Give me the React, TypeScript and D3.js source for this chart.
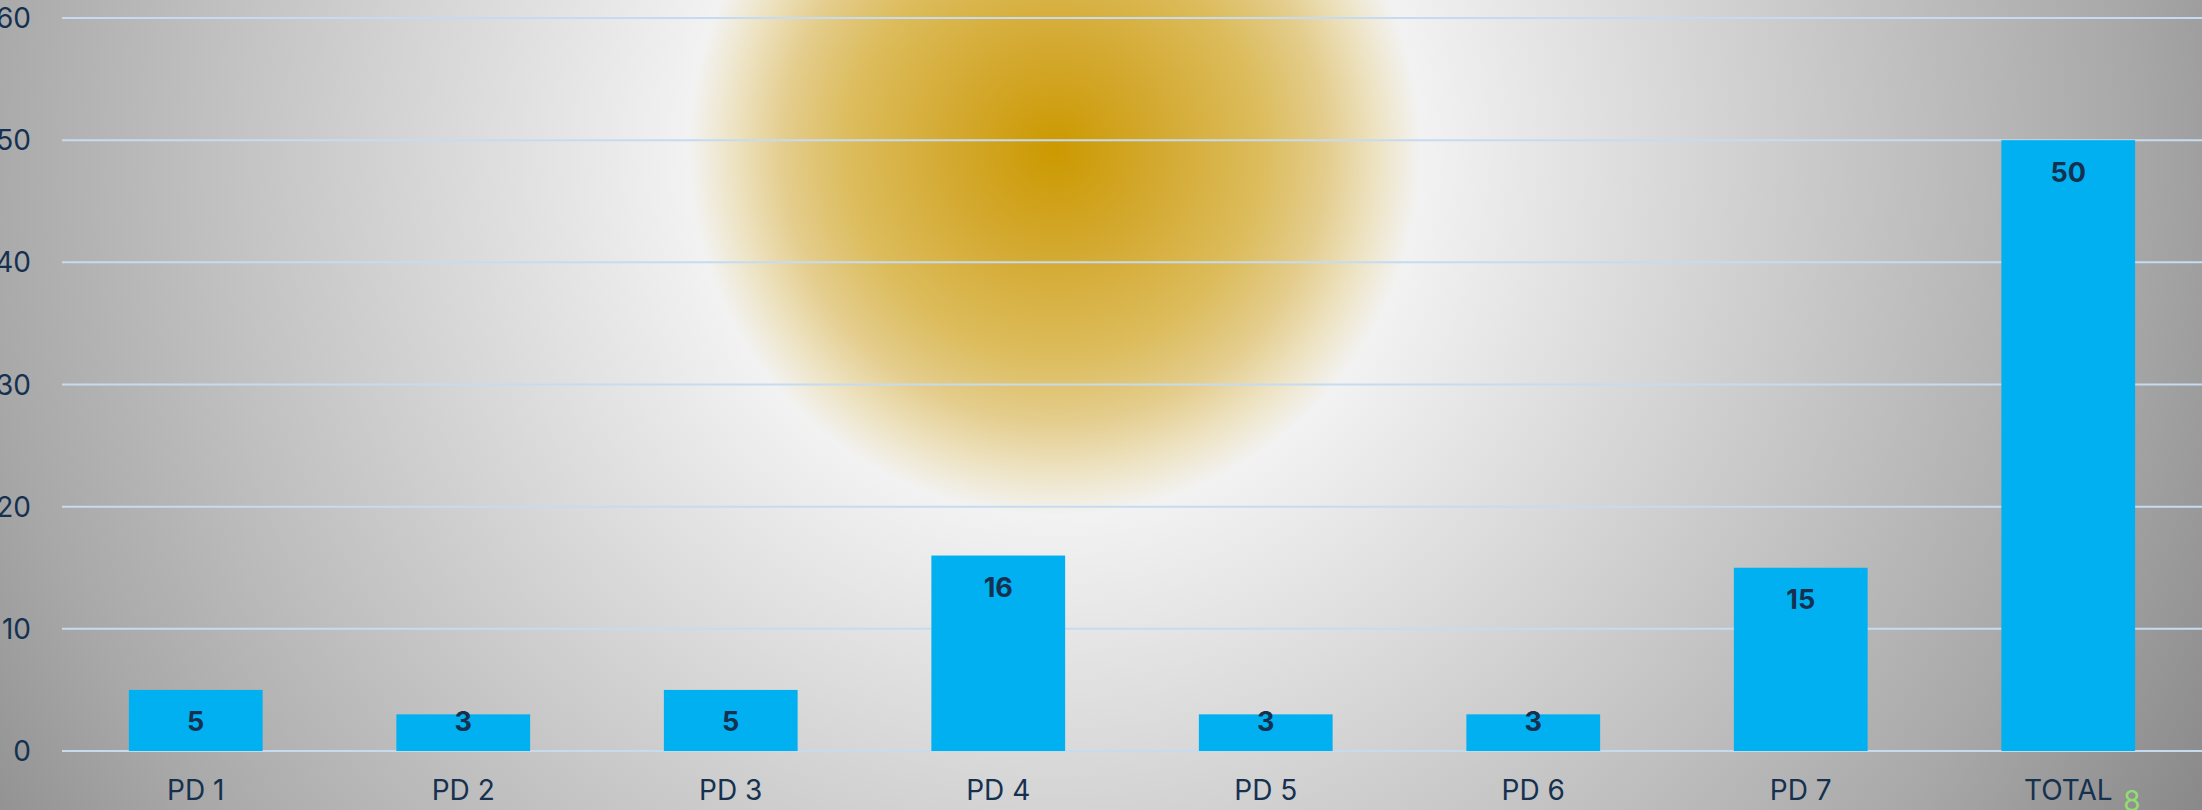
import { useEffect } from "react";
import * as d3 from "d3";

const categories = ["PD 1", "PD 2", "PD 3", "PD 4", "PD 5", "PD 6", "PD 7", "TOTAL"];
const values = [5, 3, 5, 16, 3, 3, 15, 50];
const yTicks = [0, 10, 20, 30, 40, 50, 60];

const W = 2202;
const H = 810;
const margin = { top: 18, right: 0, bottom: 59, left: 62 };
const ink = "#15314f";

export default function App() {
  useEffect(() => {
    document.body.style.margin = "0";
  }, []);

  const x = d3
    .scaleBand<string>()
    .domain(categories)
    .range([margin.left, W - margin.right])
    .paddingInner(0.5)
    .paddingOuter(0.25);
  const y = d3.scaleLinear().domain([0, 60]).range([H - margin.bottom, margin.top]);
  const y0 = y(0);

  return (
    <svg width={W} height={H} style={{ display: "block" }} fontFamily="Inter, 'Noto Sans', sans-serif">
      <defs>
        <radialGradient id="bg" gradientUnits="userSpaceOnUse" cx={1055} cy={150} r={1330}>
          <stop offset="0" stopColor="#cc9900" />
          <stop offset="0.075" stopColor="#d3a82e" />
          <stop offset="0.155" stopColor="#dcbc5c" />
          <stop offset="0.205" stopColor="#e4cd8e" />
          <stop offset="0.24" stopColor="#ede2c0" />
          <stop offset="0.275" stopColor="#f2f2f2" />
          <stop offset="0.81" stopColor="#a8a8a8" />
          <stop offset="1" stopColor="#888888" />
        </radialGradient>
      </defs>
      <rect x={0} y={0} width={W} height={H} fill="url(#bg)" />

      {yTicks.map((t) => (
        <g key={`g${t}`}>
          <line x1={margin.left} x2={W} y1={y(t)} y2={y(t)} stroke="#c6dbf0" strokeWidth={2} />
          <text x={31} y={y(t)} dy="0.36em" textAnchor="end" fontSize={28} fill={ink}>
            {t}
          </text>
        </g>
      ))}

      {categories.map((c, i) => {
        const v = values[i];
        const bx = x(c)!;
        const cx = bx + x.bandwidth() / 2;
        const ly = Math.min(y(v) + 32, y0 - 30);
        return (
          <g key={c}>
            <rect x={bx} y={y(v)} width={x.bandwidth()} height={y0 - y(v)} fill="#00b0f0" />
            <text x={cx} y={ly} dy="0.36em" textAnchor="middle" fontSize={27} fontWeight="bold" fill={ink}>
              {v}
            </text>
            <text x={cx} y={800} textAnchor="middle" fontSize={28} fill={ink}>
              {c}
            </text>
          </g>
        );
      })}

      <text x={2132} y={811} textAnchor="middle" fontSize={28} fill="#92dd72">
        8
      </text>
    </svg>
  );
}
